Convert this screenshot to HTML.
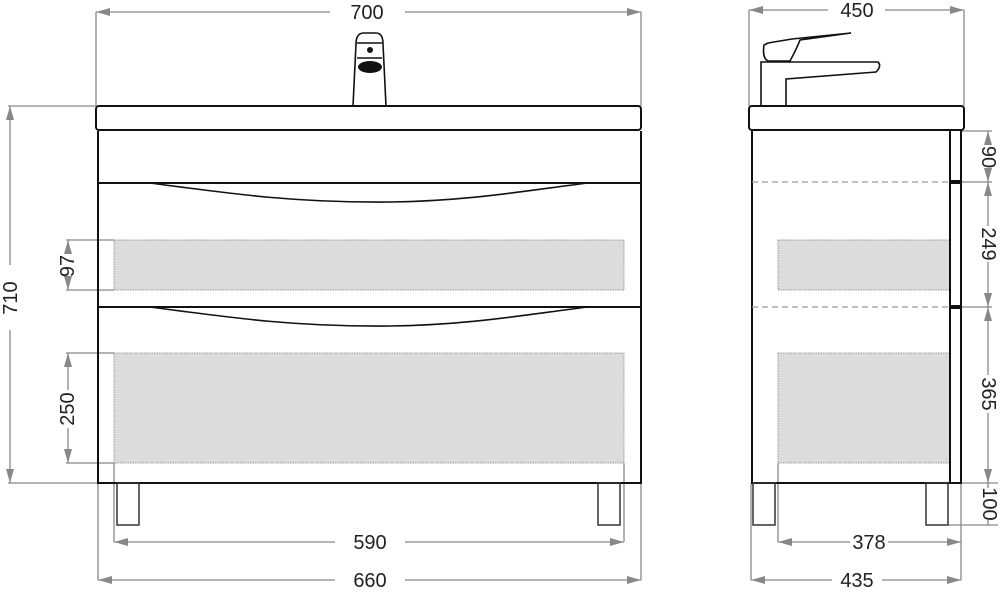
<!DOCTYPE html>
<html><head><meta charset="utf-8"><style>
html,body{margin:0;padding:0;background:#fff;}
svg{display:block;}
text{font-family:"Liberation Sans",sans-serif;font-size:20px;fill:#222;}
</style></head><body>
<svg width="1005" height="597" viewBox="0 0 1005 597" xmlns="http://www.w3.org/2000/svg">
<defs>
<marker id="a" viewBox="0 0 14 8" refX="14" refY="4" markerWidth="14" markerHeight="8" orient="auto-start-reverse" markerUnits="userSpaceOnUse">
<path d="M0,0 L14,4 L0,8 z" fill="#888"/></marker>
</defs>
<g stroke="#888" stroke-width="1.3" fill="none">
<line x1="96" y1="12" x2="96" y2="106"/><line x1="641" y1="12" x2="641" y2="106"/>
<line x1="96" y1="12" x2="330" y2="12" marker-start="url(#a)"/><line x1="405" y1="12" x2="641" y2="12" marker-end="url(#a)"/>
<line x1="8" y1="106" x2="96" y2="106"/><line x1="8" y1="483" x2="98" y2="483"/>
<line x1="10" y1="106" x2="10" y2="265" marker-start="url(#a)"/><line x1="10" y1="330" x2="10" y2="483" marker-end="url(#a)"/>
<line x1="66" y1="240" x2="114" y2="240"/><line x1="66" y1="290" x2="114" y2="290"/>
<line x1="68" y1="240" x2="68" y2="252" marker-start="url(#a)"/><line x1="68" y1="280" x2="68" y2="290" marker-end="url(#a)"/>
<line x1="66" y1="353" x2="114" y2="353"/><line x1="66" y1="463" x2="114" y2="463"/>
<line x1="68" y1="353" x2="68" y2="390" marker-start="url(#a)"/><line x1="68" y1="428" x2="68" y2="463" marker-end="url(#a)"/>
<line x1="114" y1="463" x2="114" y2="542"/><line x1="624" y1="463" x2="624" y2="542"/>
<line x1="114" y1="542" x2="335" y2="542" marker-start="url(#a)"/><line x1="405" y1="542" x2="624" y2="542" marker-end="url(#a)"/>
<line x1="98" y1="483" x2="98" y2="580"/><line x1="641" y1="483" x2="641" y2="580"/>
<line x1="98" y1="580" x2="335" y2="580" marker-start="url(#a)"/><line x1="405" y1="580" x2="641" y2="580" marker-end="url(#a)"/>
<line x1="749" y1="10" x2="749" y2="106"/><line x1="964" y1="10" x2="964" y2="106"/>
<line x1="749" y1="10" x2="828" y2="10" marker-start="url(#a)"/><line x1="885" y1="10" x2="964" y2="10" marker-end="url(#a)"/>
<line x1="961" y1="131" x2="992" y2="131"/><line x1="961" y1="182" x2="992" y2="182"/><line x1="961" y1="307" x2="992" y2="307"/><line x1="961" y1="483" x2="998" y2="483"/><line x1="948" y1="525" x2="998" y2="525"/>
<line x1="988" y1="131" x2="988" y2="143" marker-start="url(#a)"/><line x1="988" y1="172" x2="988" y2="182" marker-end="url(#a)"/>
<line x1="988" y1="182" x2="988" y2="226" marker-start="url(#a)"/><line x1="988" y1="262" x2="988" y2="307" marker-end="url(#a)"/>
<line x1="988" y1="307" x2="988" y2="375" marker-start="url(#a)"/><line x1="988" y1="413" x2="988" y2="483" marker-end="url(#a)"/>
<line x1="988" y1="483" x2="988" y2="488" /><line x1="988" y1="520" x2="988" y2="525"/>
<line x1="778" y1="463" x2="778" y2="542"/><line x1="961" y1="483" x2="961" y2="580"/><line x1="751" y1="483" x2="751" y2="580"/>
<line x1="778" y1="542" x2="850" y2="542" marker-start="url(#a)"/><line x1="888" y1="542" x2="961" y2="542" marker-end="url(#a)"/>
<line x1="751" y1="580" x2="832" y2="580" marker-start="url(#a)"/><line x1="882" y1="580" x2="961" y2="580" marker-end="url(#a)"/>
</g>
<g fill="#dcdcdc" stroke="#999" stroke-width="1" stroke-dasharray="1.5,1">
<rect x="114" y="240" width="510" height="50"/><rect x="114" y="353" width="510" height="110"/>
<rect x="778" y="240" width="172" height="50"/><rect x="778" y="353" width="172" height="110"/>
</g>
<g stroke="#111" stroke-width="2" fill="none">
<rect x="96" y="106" width="545" height="24" rx="3"/>
<path d="M98,131 V483 H641 V131"/>
<line x1="98" y1="183" x2="641" y2="183"/>
<path d="M150,183 C240,195 300,203 390,202 C470,201 530,190 588,183" stroke-width="1.6"/>
<line x1="98" y1="307" x2="641" y2="307"/>
<path d="M150,307 C240,319 300,327 390,326 C470,325 530,314 588,307" stroke-width="1.6"/>
<rect x="117" y="483" width="22" height="42" stroke-width="1.5" stroke="#333"/>
<rect x="598" y="483" width="22" height="42" stroke-width="1.5" stroke="#333"/>
<path d="M353,106 L356,44 Q356,33 364,33 L376,33 Q383,33 383,44 L386,106" stroke-width="1.6"/>
<line x1="357" y1="43" x2="382" y2="43" stroke-width="1.5"/>
<line x1="357" y1="58" x2="382" y2="58" stroke-width="1.5"/>
<rect x="749" y="106" width="215" height="24" rx="3"/>
<path d="M752,131 V483 H961 V131"/>
<line x1="950" y1="131" x2="950" y2="483"/>
<rect x="753" y="483" width="22" height="42" stroke-width="1.5" stroke="#333"/>
<rect x="926" y="483" width="22" height="42" stroke-width="1.5" stroke="#333"/>
<path d="M761,106 V62 H878 Q882,66 876,72 L786,79 V106" stroke-width="1.6"/>
<path d="M764,45 Q762,58 768,61 L790,61 Q797,48 800,40 L851,33 L792,39 L768,43 Z" stroke-width="1.6"/>
</g>
<g stroke="#999" stroke-width="1.2" stroke-dasharray="6,4">
<line x1="752" y1="182" x2="950" y2="182"/><line x1="752" y1="307" x2="950" y2="307"/>
</g>
<rect x="950" y="180" width="11" height="4" fill="#111"/><rect x="950" y="305" width="11" height="4" fill="#111"/>
<circle cx="370" cy="50" r="3" fill="#111"/>
<ellipse cx="370" cy="67" rx="12" ry="6" fill="#111"/>
<text x="367" y="19" text-anchor="middle">700</text>
<text x="857" y="17" text-anchor="middle">450</text>
<text x="370" y="549" text-anchor="middle">590</text>
<text x="370" y="587" text-anchor="middle">660</text>
<text x="869" y="549" text-anchor="middle" font-size="18">378</text>
<text x="857" y="587" text-anchor="middle">435</text>
<text transform="translate(17,298) rotate(-90)" text-anchor="middle">710</text>
<text transform="translate(74,266) rotate(-90)" text-anchor="middle" font-size="17">97</text>
<text transform="translate(74,409) rotate(-90)" text-anchor="middle" font-size="17">250</text>
<text transform="translate(982,157) rotate(90)" text-anchor="middle" font-size="17">90</text>
<text transform="translate(982,244) rotate(90)" text-anchor="middle" font-size="17">249</text>
<text transform="translate(982,394) rotate(90)" text-anchor="middle" font-size="17">365</text>
<text transform="translate(983,504) rotate(90)" text-anchor="middle" font-size="14">100</text>
</svg>
</body></html>
